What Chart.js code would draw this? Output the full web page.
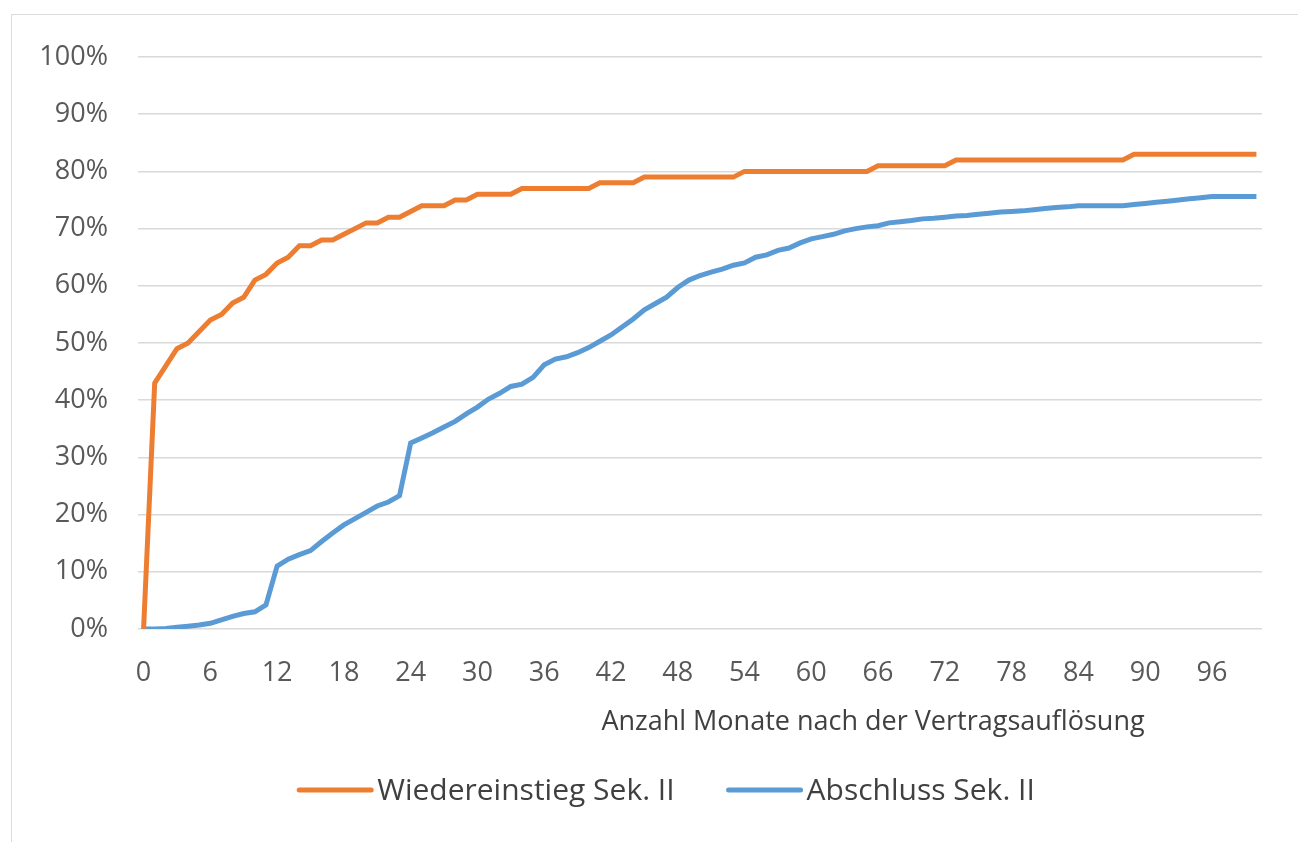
<!DOCTYPE html>
<html lang="de">
<head>
  <meta charset="UTF-8">
  <title>Wiedereinstieg und Abschluss Sek. II</title>
  <script src="https://cdn.jsdelivr.net/npm/chart.js"></script>
  <style>
    html, body { margin: 0; padding: 0; background: #fff; }
    .rahmen {
      position: absolute; left: 11px; top: 14px; width: 1400px; height: 900px;
      border-top: 1px solid #dcdcdc; border-left: 1px solid #dcdcdc;
    }
    .box { position: absolute; left: 0; top: 0; width: 1298px; height: 842px; }
  </style>
</head>
<body>
  <div class="rahmen"></div>
  <div class="box">
    <canvas id="kurve"></canvas>
  </div>

<script>
  // Monate 0..100 nach der Vertragsauflösung (Kategorien)
  const monate = Array.from({ length: 101 }, (_, i) => i);
  const tickMonate = [0, 6, 12, 18, 24, 30, 36, 42, 48, 54, 60, 66, 72, 78, 84, 90, 96];

  // Anteil in %
  const wiedereinstieg = [
    0, 43, 46, 49, 50, 52, 54, 55, 57, 58,
    61, 62, 64, 65, 67, 67, 68, 68, 69, 70,
    71, 71, 72, 72, 73, 74, 74, 74, 75, 75,
    76, 76, 76, 76, 77, 77, 77, 77, 77, 77,
    77, 78, 78, 78, 78, 79, 79, 79, 79, 79,
    79, 79, 79, 79, 80, 80, 80, 80, 80, 80,
    80, 80, 80, 80, 80, 80, 81, 81, 81, 81,
    81, 81, 81, 82, 82, 82, 82, 82, 82, 82,
    82, 82, 82, 82, 82, 82, 82, 82, 82, 83,
    83, 83, 83, 83, 83, 83, 83, 83, 83, 83,
    83
  ];
  const abschluss = [
    0, 0, 0.1, 0.3, 0.5, 0.7, 1.0, 1.6, 2.2, 2.7,
    3.0, 4.2, 11.0, 12.2, 13.0, 13.7, 15.3, 16.8, 18.2, 19.3,
    20.4, 21.5, 22.2, 23.3, 32.5, 33.4, 34.3, 35.3, 36.3, 37.6,
    38.8, 40.2, 41.2, 42.4, 42.8, 44.0, 46.2, 47.2, 47.6, 48.3,
    49.2, 50.3, 51.4, 52.8, 54.2, 55.8, 56.9, 58.0, 59.7, 61.0,
    61.8, 62.4, 62.9, 63.6, 64.0, 65.0, 65.4, 66.2, 66.6, 67.5,
    68.2, 68.6, 69.0, 69.6, 70.0, 70.3, 70.5, 71.0, 71.2, 71.4,
    71.7, 71.8, 72.0, 72.2, 72.3, 72.5, 72.7, 72.9, 73.0, 73.1,
    73.3, 73.5, 73.7, 73.8, 74.0, 74.0, 74.0, 74.0, 74.0, 74.2,
    74.4, 74.6, 74.8, 75.0, 75.2, 75.4, 75.6, 75.6, 75.6, 75.6,
    75.6
  ];

  const schrift = '"Open Sans", sans-serif';
  const achsenTitel = 'Anzahl Monate nach der Vertragsauflösung';

  // Achsentitel und Legende selbst zeichnen (Positionen wie in der Vorlage)
  const extras = {
    id: 'extras',
    afterDraw(chart) {
      const ctx = chart.ctx;
      ctx.save();
      ctx.fillStyle = '#404040';
      ctx.font = '27px ' + schrift;
      ctx.textAlign = 'center';
      ctx.textBaseline = 'middle';
      ctx.fillText(achsenTitel, 873, 722);

      // Legende
      ctx.font = '30px ' + schrift;
      const linie = 72, abstand = 6, luecke = 54;
      const ds = chart.data.datasets;
      const breiten = ds.map(d => ctx.measureText(d.label).width);
      let gesamt = 0;
      breiten.forEach((b, i) => { gesamt += linie + abstand + b + (i ? luecke : 0); });
      let x = 667 - gesamt / 2;
      const y = 790;
      ctx.textAlign = 'left';
      ds.forEach((d, i) => {
        ctx.strokeStyle = d.borderColor;
        ctx.lineWidth = 5;
        ctx.lineCap = 'round';
        ctx.beginPath();
        ctx.moveTo(x, y);
        ctx.lineTo(x + linie, y);
        ctx.stroke();
        x += linie + abstand;
        ctx.fillStyle = '#404040';
        ctx.fillText(d.label, x, y + 1);
        x += breiten[i] + luecke;
      });
      ctx.restore();
    }
  };

  const config = {
    type: 'line',
    data: {
      labels: monate,
      datasets: [
        {
          label: 'Wiedereinstieg Sek. II',
          data: wiedereinstieg,
          borderColor: '#ED7D31',
          backgroundColor: '#ED7D31',
          borderWidth: 5,
          pointRadius: 0,
          tension: 0
        },
        {
          label: 'Abschluss Sek. II',
          data: abschluss,
          borderColor: '#5B9BD5',
          backgroundColor: '#5B9BD5',
          borderWidth: 5,
          pointRadius: 0,
          tension: 0
        }
      ]
    },
    options: {
      responsive: false,
      animation: false,
      layout: { padding: { left: 0, right: 36, top: 57, bottom: 0 } },
      plugins: {
        legend: { display: false },
        tooltip: { enabled: false }
      },
      scales: {
        x: {
          offset: true,
          grid: { display: false, drawTicks: false },
          border: { display: false },
          ticks: {
            autoSkip: false,
            maxRotation: 0,
            minRotation: 0,
            padding: 28,
            color: '#595959',
            font: { family: schrift, size: 27 },
            callback: function (val, idx) {
              const m = this.getLabelForValue(val);
              return tickMonate.includes(Number(m)) ? String(m) : '';
            }
          },
          afterFit: function (scale) { scale.height = 842 - 629; }
        },
        y: {
          min: 0,
          max: 100,
          grid: { color: '#d9d9d9', lineWidth: 1.5, drawTicks: false },
          border: { display: false },
          ticks: {
            stepSize: 10,
            padding: 30,
            color: '#595959',
            font: { family: schrift, size: 27 },
            callback: v => v + '%'
          },
          afterFit: function (scale) { scale.width = 138; }
        }
      }
    },
    plugins: [extras]
  };

  const canvas = document.getElementById('kurve');
  canvas.width = 1298;
  canvas.height = 842;
  new Chart(canvas, config);
</script>
</body>
</html>
